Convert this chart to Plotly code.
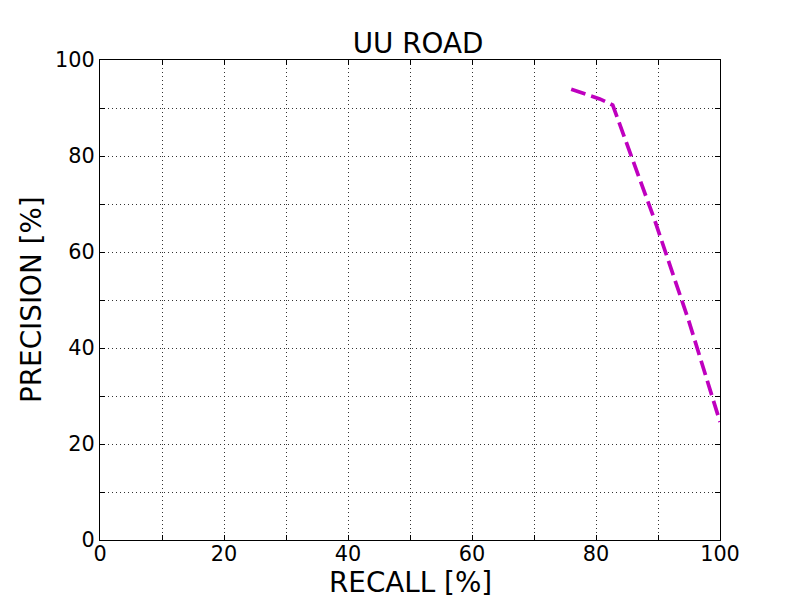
import plotly.graph_objects as go

recall = [76.0, 80.6, 82.7, 89.5, 95.0, 100.0]
precision = [93.9, 91.9, 90.6, 66.5, 45.5, 24.6]

fig = go.Figure()
fig.add_trace(go.Scatter(x=recall, y=precision, mode="lines",
                         line=dict(color="#bf00bf", width=3.7, dash="15px,6px"),
                         showlegend=False))

axis_common = dict(
    showline=True, linecolor="black", linewidth=1.2, mirror="ticks",
    ticks="inside", ticklen=5, tickcolor="black",
    showgrid=True, gridcolor="#333333", gridwidth=1, griddash="1px,3px",
    zeroline=False, tickfont=dict(family="DejaVu Sans", size=20.8, color="black"),
    dtick=20, tick0=0,
    minor=dict(dtick=10, showgrid=True, gridcolor="#333333", gridwidth=1,
               griddash="1px,3px", ticks="inside", ticklen=5, tickcolor="black"),
)

fig.update_xaxes(range=[0, 100], ticklabelstandoff=-5, **axis_common)
fig.update_yaxes(range=[0, 100], **axis_common)

label_font = dict(family="DejaVu Sans", size=27.8, color="black")
fig.add_annotation(text="RECALL [%]", xref="paper", yref="paper",
                   x=0.5, y=-(582 - 540) / 480, xanchor="center", yanchor="middle",
                   showarrow=False, font=label_font)
fig.add_annotation(text="PRECISION [%]", xref="paper", yref="paper",
                   x=-(100 - 31) / 620, y=0.5, xanchor="center", yanchor="middle",
                   textangle=-90, showarrow=False, font=label_font)

fig.update_layout(
    width=800, height=600,
    paper_bgcolor="white", plot_bgcolor="white",
    margin=dict(l=92, r=88, t=52, b=68, autoexpand=False),
    title=dict(text="UU ROAD", x=0.5125, xanchor="center", y=0.941, yanchor="middle",
               font=dict(family="DejaVu Sans", size=27.8, color="black")),
)

fig.write_html("out.html")
